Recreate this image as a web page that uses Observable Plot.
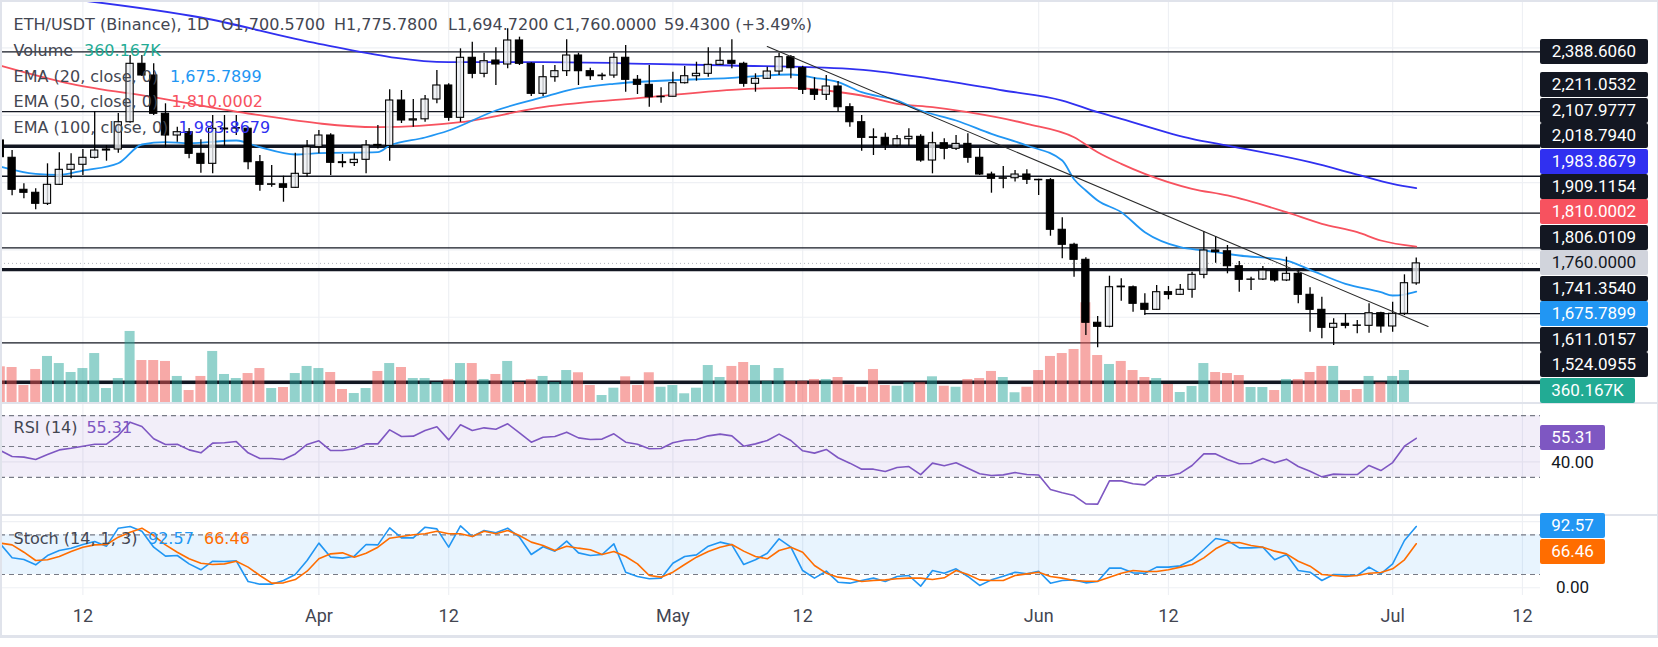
<!DOCTYPE html>
<html>
<head>
<meta charset="utf-8">
<script src="https://cdn.jsdelivr.net/npm/d3@7"></script>
<script src="https://cdn.jsdelivr.net/npm/@observablehq/plot@0.6"></script>
<style>
  body { margin: 0; background: #fff; font-family: Roboto, "Noto Sans", sans-serif; }
  #chart { position: relative; width: 1658px; height: 647px; overflow: hidden; background: #fff; }
  .layer { position: absolute; left: 0; overflow: hidden; }
  .layer svg { display: block; }
  .lbl { position: absolute; height: 25px; line-height: 25px; font-size: 17px; text-align: center; border-radius: 2px; white-space: nowrap; }
  .tick { position: absolute; height: 20px; line-height: 20px; font-size: 17px; text-align: center; color: #131722; white-space: nowrap; }
  .lg { position: absolute; font-family: "DejaVu Sans", Verdana, sans-serif; font-size: 16px; line-height: 20px; height: 20px; color: #434651; white-space: nowrap; }
  .sep { position: absolute; background: #e0e3eb; }
</style>
</head>
<body>
<div id="chart"></div>
<script>
// ---------------- DATA ----------------
const startDay = "2023-03-05";           // first visible daily candle
const symbolTitle = "ETH/USDT (Binance), 1D";

const opens = [
  2125.1, 2073.7, 1978.6, 1969.7, 1937.0, 1993.4, 2038.0, 2052.9, 2073.7, 2095.3,
  2098.3, 2179.4, 2352.9, 2318.2, 2204.4, 2139.9, 2149.7, 2085.5, 2055.8, 2158.0,
  2160.5, 2160.0, 2060.6, 1993.4, 1995.0, 1984.5, 2026.1, 2105.2, 2139.9, 2060.5,
  2058.0, 2067.7, 2112.0, 2109.0, 2243.9, 2184.5, 2188.0, 2246.9, 2288.5, 2192.5,
  2370.8, 2323.2, 2362.7, 2350.9, 2422.2, 2352.9, 2263.8, 2313.1, 2331.0, 2377.6,
  2331.0, 2316.1, 2318.0, 2370.8, 2305.4, 2290.5, 2253.7, 2255.0, 2295.3, 2316.1,
  2323.2, 2349.9, 2361.8, 2352.9, 2293.5, 2308.4, 2330.0, 2372.6, 2339.9, 2275.7,
  2260.8, 2285.5, 2224.0, 2179.4, 2134.5, 2133.0, 2110.2, 2129.0, 2136.0, 2065.6,
  2117.0, 2100.4, 2115.0, 2073.7, 2024.0, 2011.3, 2013.0, 2024.0, 2008.3, 2007.0,
  1859.8, 1815.2, 1770.6, 1583.5, 1571.6, 1691.0, 1689.0, 1639.9, 1622.0, 1674.4,
  1666.6, 1681.5, 1726.0, 1798.3, 1796.0, 1751.6, 1711.2, 1712.0, 1738.8, 1709.2,
  1729.0, 1666.6, 1622.0, 1568.6, 1580.5, 1575.5, 1574.5, 1612.0, 1572.5, 1610.2,
  1700.57
];
const highs = [
  2131.0, 2095.3, 1996.4, 1981.6, 2055.8, 2088.5, 2085.5, 2098.3, 2211.0, 2110.2,
  2205.3, 2377.6, 2377.6, 2352.9, 2234.1, 2164.6, 2160.7, 2127.1, 2199.3, 2199.3,
  2199.0, 2164.0, 2080.5, 2050.8, 2019.0, 2087.3, 2125.1, 2154.8, 2145.0, 2083.5,
  2085.5, 2125.1, 2170.0, 2275.7, 2273.6, 2246.9, 2258.8, 2333.0, 2293.5, 2397.5,
  2417.1, 2384.4, 2400.5, 2456.9, 2432.0, 2356.0, 2347.9, 2347.9, 2424.2, 2384.4,
  2339.9, 2325.0, 2384.4, 2407.3, 2318.2, 2347.9, 2281.6, 2328.0, 2345.0, 2357.7,
  2400.5, 2400.5, 2424.2, 2357.7, 2323.2, 2342.8, 2384.4, 2377.6, 2346.0, 2311.3,
  2318.2, 2300.4, 2234.1, 2199.3, 2159.8, 2146.8, 2140.0, 2159.8, 2142.0, 2149.7,
  2130.0, 2140.0, 2145.0, 2100.4, 2031.0, 2047.8, 2036.0, 2038.0, 2010.0, 2012.0,
  1895.4, 1820.0, 1776.6, 1602.2, 1721.9, 1714.2, 1693.0, 1669.6, 1694.3, 1691.3,
  1697.2, 1733.8, 1854.7, 1839.8, 1813.1, 1765.6, 1719.0, 1750.7, 1740.0, 1778.4,
  1738.8, 1687.3, 1659.5, 1595.3, 1610.2, 1590.3, 1639.9, 1615.0, 1644.8, 1726.0,
  1775.78
];
const lows = [
  2072.0, 1960.8, 1951.8, 1919.2, 1932.0, 1991.4, 2011.3, 2021.1, 2070.0, 2063.6,
  2087.3, 2176.0, 2315.2, 2199.3, 2103.4, 2120.0, 2070.7, 2028.0, 2026.1, 2107.2,
  2140.0, 2038.0, 1974.4, 1986.3, 1941.7, 1983.0, 2016.0, 2085.5, 2021.1, 2044.0,
  2047.8, 2026.1, 2100.0, 2063.6, 2175.6, 2164.6, 2179.4, 2234.1, 2182.4, 2179.4,
  2308.4, 2311.3, 2288.5, 2338.1, 2347.9, 2255.8, 2255.8, 2298.3, 2315.2, 2288.5,
  2303.3, 2303.3, 2310.3, 2268.6, 2261.7, 2224.0, 2235.9, 2254.0, 2293.0, 2301.3,
  2313.1, 2347.9, 2338.1, 2283.4, 2268.6, 2306.0, 2318.2, 2308.4, 2261.7, 2243.9,
  2243.9, 2209.1, 2164.6, 2093.3, 2080.5, 2095.3, 2105.0, 2107.2, 2060.6, 2026.1,
  2067.7, 2095.3, 2057.6, 2021.0, 1968.5, 1981.6, 2002.0, 1994.4, 1961.7, 1840.7,
  1773.6, 1718.9, 1545.7, 1509.2, 1568.6, 1647.6, 1615.0, 1605.1, 1620.0, 1651.8,
  1665.0, 1656.5, 1714.2, 1760.5, 1729.0, 1674.4, 1679.4, 1709.0, 1704.3, 1706.0,
  1639.9, 1555.5, 1535.9, 1516.0, 1565.6, 1550.7, 1552.5, 1552.5, 1555.5, 1605.1,
  1694.72
];
const closes = [
  2075.5, 1978.6, 1969.7, 1937.0, 1993.4, 2038.0, 2052.9, 2073.7, 2095.3, 2098.3,
  2179.4, 2352.9, 2318.2, 2204.4, 2139.9, 2149.7, 2085.5, 2055.8, 2159.8, 2160.5,
  2162.0, 2060.6, 1993.4, 1995.0, 1984.5, 2026.1, 2105.2, 2139.9, 2058.8, 2058.0,
  2067.7, 2110.2, 2109.0, 2243.9, 2184.5, 2188.0, 2246.9, 2288.5, 2192.5, 2370.8,
  2323.2, 2360.7, 2350.9, 2422.2, 2352.9, 2263.8, 2313.1, 2331.0, 2377.6, 2331.0,
  2316.1, 2318.0, 2370.8, 2305.4, 2290.5, 2253.7, 2255.0, 2295.3, 2316.1, 2323.2,
  2349.9, 2361.8, 2352.9, 2293.5, 2308.4, 2330.0, 2372.6, 2339.9, 2275.7, 2260.8,
  2285.5, 2224.0, 2179.4, 2133.0, 2133.0, 2110.2, 2129.0, 2136.0, 2065.6, 2117.0,
  2100.4, 2115.0, 2073.7, 2024.0, 2011.3, 2013.0, 2024.0, 2008.3, 2007.0, 1859.8,
  1815.2, 1770.6, 1583.5, 1571.6, 1689.2, 1689.0, 1639.9, 1622.0, 1674.4, 1666.6,
  1681.5, 1726.0, 1798.3, 1793.3, 1751.6, 1711.2, 1712.0, 1738.8, 1709.2, 1729.0,
  1666.6, 1622.0, 1568.6, 1580.5, 1574.5, 1574.5, 1612.0, 1572.5, 1610.2, 1701.1,
  1760.0
];
// daily volume, thousands (bars drawn for the closed candles)
const volumesK = [
  414, 406, 197, 383, 534, 452, 348, 394, 568, 162,
  278, 824, 487, 487, 476, 302, 139, 302, 592, 325,
  278, 336, 394, 162, 174, 336, 418, 394, 348, 151,
  104, 162, 360, 452, 406, 278, 278, 232, 267, 452,
  452, 267, 325, 476, 232, 267, 302, 232, 371, 345,
  197, 81, 166, 298, 197, 345, 177, 197, 101, 166,
  429, 290, 418, 464, 429, 247, 394, 247, 247, 267,
  267, 290, 205, 177, 383, 197, 189, 229, 229, 298,
  189, 177, 267, 278, 360, 290, 113, 177, 371, 534,
  568, 615, 1157, 545, 441, 476, 371, 290, 278, 209,
  116, 186, 452, 348, 336, 313, 174, 174, 139, 267,
  267, 348, 418, 418, 139, 151, 302, 229, 302, 371
];
const lastVolumeK = 360.167;

const rsi14 = [
  47.4, 43.5, 43.1, 41.6, 44.8, 47.8, 48.9, 50.2, 51.5, 51.5,
  57.1, 65.8, 63.0, 55.0, 51.3, 51.5, 47.8, 45.9, 52.2, 52.4,
  53.2, 45.9, 42.2, 42.2, 41.6, 45.2, 51.3, 53.7, 47.4, 47.4,
  48.5, 51.7, 51.7, 60.8, 56.5, 56.7, 60.4, 62.8, 54.3, 64.1,
  60.4, 62.1, 61.2, 64.7, 58.9, 52.8, 56.0, 56.5, 59.3, 55.6,
  54.5, 54.8, 58.2, 52.8, 51.5, 48.5, 48.7, 52.4, 54.1, 54.5,
  56.9, 58.0, 56.9, 50.2, 51.7, 53.9, 58.0, 53.9, 47.2, 45.7,
  48.1, 42.7, 39.2, 35.3, 35.3, 33.8, 36.4, 37.0, 31.8, 39.2,
  37.5, 39.4, 35.9, 32.3, 31.2, 31.6, 33.1, 31.8, 31.5, 22.1,
  20.0, 18.2, 12.8, 12.6, 27.7, 27.7, 25.8, 25.1, 31.0, 31.0,
  32.7, 37.7, 45.2, 45.2, 41.6, 38.8, 39.0, 42.2, 39.4, 41.8,
  37.0, 34.0, 30.3, 32.1, 31.8, 31.8, 37.7, 34.4, 39.6, 50.2,
  55.31
];
const stochK = [
  66.3, 45.2, 42.7, 34.6, 48.7, 56.3, 59.8, 65.3, 69.9, 62.8,
  90.0, 92.5, 85.5, 61.3, 47.7, 48.7, 36.1, 27.1, 40.1, 39.6,
  40.7, 9.4, 5.4, 5.4, 10.9, 20.0, 41.2, 67.4, 46.2, 44.7,
  47.7, 65.3, 64.8, 90.5, 75.4, 75.4, 91.5, 89.0, 61.3, 93.5,
  77.4, 86.5, 83.0, 90.0, 76.4, 50.2, 62.0, 55.3, 70.4, 52.7,
  48.7, 50.2, 66.3, 23.5, 17.0, 13.5, 14.5, 37.1, 47.2, 49.7,
  62.8, 68.9, 64.8, 35.1, 42.2, 52.2, 73.9, 61.3, 26.0, 14.5,
  25.0, 8.4, 6.9, 10.9, 14.5, 9.4, 17.0, 18.5, 2.4, 26.0,
  22.0, 28.6, 17.0, 3.4, 11.9, 17.5, 23.5, 21.0, 25.0, 6.9,
  10.9, 11.9, 7.4, 9.4, 29.6, 29.6, 22.5, 22.0, 31.1, 31.1,
  33.1, 42.2, 57.8, 74.4, 71.4, 60.3, 60.3, 61.3, 42.2, 50.2,
  26.0, 23.5, 10.9, 20.0, 19.5, 18.5, 31.1, 21.0, 36.1, 71.4,
  92.57
];
const stochD = [
  67.4, 64.8, 53.7, 41.2, 42.2, 47.2, 54.8, 61.3, 64.8, 65.3,
  76.4, 84.0, 90.0, 78.9, 64.8, 53.7, 43.7, 37.1, 35.1, 36.1,
  40.1, 31.1, 18.5, 6.9, 7.4, 12.4, 25.0, 43.7, 51.2, 52.7,
  46.2, 52.2, 61.3, 74.9, 77.4, 80.0, 81.5, 85.5, 81.5, 81.5,
  77.4, 85.5, 81.5, 86.5, 78.9, 68.9, 63.8, 56.3, 62.8, 59.8,
  57.3, 50.2, 54.8, 47.2, 36.1, 18.5, 16.0, 23.5, 35.1, 46.2,
  54.8, 61.3, 65.3, 55.3, 47.2, 43.7, 56.3, 61.3, 53.7, 33.6,
  22.0, 16.0, 13.5, 9.4, 10.9, 11.9, 13.5, 14.5, 14.5, 12.4,
  15.0, 26.0, 20.0, 11.9, 10.9, 10.9, 18.5, 21.0, 23.5, 17.0,
  14.5, 10.9, 9.9, 9.9, 16.0, 22.0, 26.0, 24.5, 24.5, 27.1,
  31.1, 35.1, 45.2, 58.8, 67.9, 68.4, 63.8, 61.3, 55.3, 51.2,
  40.1, 32.6, 20.0, 18.5, 17.0, 18.5, 22.0, 23.0, 28.6, 42.2,
  66.46
];

// EMA lines (day index from startDay, value)
const ema20Days = [0, 3, 5, 7, 10, 12, 14, 16, 20, 22, 25, 27, 32, 33, 36, 38, 42, 46, 48, 52, 62, 67, 69, 71, 73, 76, 78, 81, 84, 87, 90, 91, 92, 93, 95, 97, 100, 102, 105, 109, 111, 114, 117, 118, 119, 120];
const ema20Values = [2047.8, 2026.1, 2023.2, 2035.9, 2057.6, 2113.2, 2120.0, 2117.0, 2125.1, 2105.2, 2083.5, 2087.3, 2090.3, 2110.2, 2134.0, 2154.8, 2214.2, 2253.7, 2273.6, 2293.5, 2311.3, 2321.1, 2311.3, 2298.3, 2268.6, 2243.9, 2214.2, 2184.5, 2145.0, 2110.2, 2065.6, 2010.0, 1976.5, 1946.8, 1912.0, 1852.6, 1808.0, 1798.3, 1783.4, 1768.5, 1740.9, 1699.3, 1674.4, 1664.6, 1667.5, 1675.7899];
const ema50Days = [0, 6, 13, 21, 32, 39, 46, 55, 62, 67, 70, 73, 76, 79, 82, 87, 91, 93, 95, 97, 101, 104, 109, 112, 115, 117, 120];
const ema50Values = [2347.9, 2293.5, 2253.7, 2205.3, 2164.6, 2179.4, 2224.0, 2253.7, 2275.7, 2281.6, 2273.6, 2258.8, 2234.1, 2224.0, 2209.1, 2174.7, 2134.9, 2090.3, 2055.8, 2026.1, 1981.6, 1961.7, 1912.0, 1877.6, 1852.6, 1828.0, 1810.0002];
const ema100Days = [7, 17, 27, 38, 46, 55, 62, 72, 79, 85, 90, 93, 95, 101, 104, 111, 115, 118, 120];
const ema100Values = [2541.0, 2490.5, 2412.4, 2357.7, 2357.7, 2353.0, 2347.9, 2338.1, 2308.4, 2273.6, 2243.9, 2209.1, 2189.5, 2130.1, 2110.2, 2060.6, 2024.0, 1996.4, 1983.8679];

// drawn lines
const thinLevels = [2388.606, 2211.0532, 2018.794, 1909.1154, 1806.0109, 1524.0955];
const thickLevels = [2107.9777, 1741.354, 1407.0];
const rayLevels = [1611.0157];
const rayStartDays = [97];
const trendDays = [65, 121];
const trendPrices = [2404.3, 1572.5];
const priceGrid = [1400, 1600, 1800, 2000, 2200, 2400];

const tickDates = ["2023-03-12", "2023-04-01", "2023-04-12", "2023-05-01", "2023-05-12", "2023-06-01", "2023-06-12", "2023-07-01", "2023-07-12"];
const tickLabels = ["12", "Apr", "12", "May", "12", "Jun", "12", "Jul", "12"];

const rsiLevels = [70, 50, 30];
const rsiGrid = [40];
const stochLevels = [80, 20];
const stochGrid = [100, 0];

// ---------------- BUILD ----------------
const DAY = 864e5;
const t0 = Date.parse(startDay + "T00:00:00Z");
const dayDate = i => new Date(t0 + i * DAY);
const PLOT_W = 1540;
const xDomain = [new Date(t0 + 0.017 * DAY), new Date(t0 + 130.53 * DAY)];

const candles = opens.map((o, i) => ({date: dayDate(i), open: o, high: highs[i], low: lows[i], close: closes[i]}));
const up = candles.filter(c => c.close >= c.open);
const down = candles.filter(c => c.close < c.open);
const vols = volumesK.map((v, i) => ({date: dayDate(i), vol: v, up: closes[i] >= opens[i]}));
const mkLine = (days, vals) => days.map((d, i) => ({date: dayDate(d), value: vals[i]}));
const ema20 = mkLine(ema20Days, ema20Values);
const ema50 = mkLine(ema50Days, ema50Values);
const ema100 = mkLine(ema100Days, ema100Values);
const trend = mkLine(trendDays, trendPrices);
const rays = rayLevels.map((p, i) => ({price: p, start: dayDate(rayStartDays[i]), end: xDomain[1]}));
const ticks = tickDates.map((d, i) => ({date: new Date(d + "T00:00:00Z"), label: tickLabels[i]}));
const rsiData = rsi14.map((v, i) => ({date: dayDate(i), v}));
const kData = stochK.map((v, i) => ({date: dayDate(i), v}));
const dData = stochD.map((v, i) => ({date: dayDate(i), v}));
const band = (lo, hi) => [{x1: xDomain[0], x2: xDomain[1], y1: lo, y2: hi}];
const lastClose = closes[closes.length - 1];

const half = d => new Date(+d.date - DAY / 2);
const halfR = d => new Date(+d.date + DAY / 2);

const chart = document.getElementById("chart");
function pane(top, height, yDomain, marks) {
  const svg = Plot.plot({
    width: PLOT_W, height,
    marginTop: 0, marginRight: 0, marginBottom: 0, marginLeft: 0,
    x: {type: "utc", domain: xDomain, axis: null},
    y: {domain: yDomain, axis: null},
    style: {background: "none", overflow: "hidden", fontFamily: "Roboto"},
    marks
  });
  const div = document.createElement("div");
  div.className = "layer";
  div.style.top = top + "px";
  div.style.width = PLOT_W + "px";
  div.style.height = height + "px";
  div.appendChild(svg);
  chart.appendChild(div);
  return svg;
}

const GRID = "#eef0f4";
const INK = "#131722";
const PRICE_H = 402;
const priceDomain = [1346.68, 2541.02];

// price pane: background lines
const priceBack = pane(0, PRICE_H, priceDomain, [
  Plot.ruleX(ticks, {x: "date", stroke: GRID, strokeWidth: 1.2}),
  Plot.ruleY(priceGrid, {stroke: GRID, strokeWidth: 1.2}),
  Plot.ruleY([lastClose], {stroke: "#b2b5be", strokeDasharray: "1,3", strokeWidth: 1}),
  Plot.ruleY(thinLevels, {stroke: INK, strokeWidth: 1.3}),
  Plot.ruleY(rays, {y: "price", x1: "start", x2: "end", stroke: INK, strokeWidth: 1.3}),
  Plot.ruleY(thickLevels, {stroke: INK, strokeWidth: 3.4})
]);
// volume overlay
const volPane = pane(0, PRICE_H, [0, PRICE_H * 11.6], [
  Plot.rect(vols.filter(d => d.up), {x1: half, x2: halfR, y1: 0, y2: "vol", fill: "#26a69a", fillOpacity: 0.5, insetLeft: 0.9, insetRight: 0.9}),
  Plot.rect(vols.filter(d => !d.up), {x1: half, x2: halfR, y1: 0, y2: "vol", fill: "#ef5350", fillOpacity: 0.5, insetLeft: 0.9, insetRight: 0.9})
]);
// price pane: series
const priceFront = pane(0, PRICE_H, priceDomain, [
  Plot.line(ema100, {x: "date", y: "value", stroke: "#3030f0", strokeWidth: 1.8, curve: "monotone-x"}),
  Plot.line(ema50, {x: "date", y: "value", stroke: "#f7525f", strokeWidth: 1.8, curve: "monotone-x"}),
  Plot.line(ema20, {x: "date", y: "value", stroke: "#2196f3", strokeWidth: 1.8, curve: "monotone-x"}),
  Plot.ruleX(candles, {x: "date", y1: "low", y2: "high", stroke: "#000", strokeWidth: 1.3}),
  Plot.rect(up, {x1: half, x2: halfR, y1: "open", y2: "close", fill: "#eef0f4", fillOpacity: 0.8, stroke: "#000", strokeWidth: 1.1, insetLeft: 2.3, insetRight: 2.3}),
  Plot.rect(down, {x1: half, x2: halfR, y1: "open", y2: "close", fill: "#000", stroke: "#000", strokeWidth: 1.1, insetLeft: 2.3, insetRight: 2.3}),
  Plot.line(trend, {x: "date", y: "value", stroke: "#2a2a2a", strokeWidth: 1.1})
]);

// RSI pane
const RSI_TOP = 403, RSI_H = 111;
const rsiPane = pane(RSI_TOP, RSI_H, [50 - (RSI_H - (446 - RSI_TOP)) / 1.542, 50 + (446 - RSI_TOP) / 1.542], [
  Plot.ruleX(ticks, {x: "date", stroke: GRID, strokeWidth: 1.2}),
  Plot.rect(band(rsiLevels[2], rsiLevels[0]), {x1: "x1", x2: "x2", y1: "y1", y2: "y2", fill: "#7e57c2", fillOpacity: 0.1}),
  Plot.ruleY(rsiGrid, {stroke: "#e3e0ee", strokeWidth: 1.2}),
  Plot.ruleY(rsiLevels, {stroke: "#787b86", strokeDasharray: "5,4", strokeWidth: 1.2}),
  Plot.line(rsiData, {x: "date", y: "v", stroke: "#7e57c2", strokeWidth: 1.6})
]);

// Stochastic pane
const ST_TOP = 515, ST_H = 80;
const stPane = pane(ST_TOP, ST_H, [20 - (ST_H - (574 - ST_TOP)) / 0.6617, 20 + (574 - ST_TOP) / 0.6617], [
  Plot.ruleX(ticks, {x: "date", stroke: GRID, strokeWidth: 1.2}),
  Plot.ruleY(stochGrid, {stroke: GRID, strokeWidth: 1.2}),
  Plot.rect(band(stochLevels[1], stochLevels[0]), {x1: "x1", x2: "x2", y1: "y1", y2: "y2", fill: "#2196f3", fillOpacity: 0.1}),
  Plot.ruleY(stochLevels, {stroke: "#787b86", strokeDasharray: "5,4", strokeWidth: 1.2}),
  Plot.line(kData, {x: "date", y: "v", stroke: "#2196f3", strokeWidth: 1.6}),
  Plot.line(dData, {x: "date", y: "v", stroke: "#ff6d00", strokeWidth: 1.6})
]);

// time axis
pane(596, 40, [0, 1], [
  Plot.text(ticks, {x: "date", text: "label", frameAnchor: "middle", fontSize: 18, fill: "#434651", fontFamily: "Roboto"})
]);

// separators & frame
function sep(x, y, w, h, color) {
  const d = document.createElement("div");
  d.className = "sep";
  Object.assign(d.style, {left: x + "px", top: y + "px", width: w + "px", height: h + "px"});
  if (color) d.style.background = color;
  chart.appendChild(d);
}
sep(0, 0, 1658, 1.5);
sep(0, 0, 1.5, 637);
sep(1656.5, 0, 1.5, 637);
sep(0, 402, 1658, 1.5);
sep(0, 514, 1658, 1.5);
sep(0, 635, 1658, 3);

// right scale labels
const yPrice = v => priceFront.scale("y").apply(v);
const fmt4 = d3.format(",.4f");
function tag(cls, str, cy, left, width, bg, color) {
  const d = document.createElement("div");
  d.className = cls;
  d.textContent = str;
  const h = cls === "lbl" ? 25 : 20;
  Object.assign(d.style, {left: left + "px", top: (cy - h / 2) + "px", width: width + "px"});
  if (bg) d.style.background = bg;
  if (color) d.style.color = color;
  chart.appendChild(d);
  return d;
}

const DARK = "#131722";
const tags = [
  {v: 2211.0532, bg: DARK, c: "#fff"},
  {v: 2107.9777, bg: DARK, c: "#fff"},
  {v: 2018.794, bg: DARK, c: "#fff"},
  {v: ema100Values[ema100Values.length - 1], bg: "#3030f0", c: "#fff"},
  {v: 1909.1154, bg: DARK, c: "#fff"},
  {v: ema50Values[ema50Values.length - 1], bg: "#f7525f", c: "#fff"},
  {v: 1806.0109, bg: DARK, c: "#fff"},
  {v: lastClose, bg: "#d1d4dc", c: "#131722", anchor: true},
  {v: 1741.354, bg: DARK, c: "#fff"},
  {v: ema20Values[ema20Values.length - 1], bg: "#2196f3", c: "#fff"},
  {v: 1611.0157, bg: DARK, c: "#fff"},
  {v: 1524.0955, bg: DARK, c: "#fff"}
];
const STEP = 25.45;
const ai = tags.findIndex(t => t.anchor);
tags.forEach(t => t.y = yPrice(t.v));
tags[ai].pos = tags[ai].y;
for (let i = ai - 1; i >= 0; i--) tags[i].pos = Math.min(tags[i].y, tags[i + 1].pos - STEP);
for (let i = ai + 1; i < tags.length; i++) tags[i].pos = Math.max(tags[i].y, tags[i - 1].pos + STEP);
tag("lbl", fmt4(thinLevels[0]), yPrice(thinLevels[0]), 1540, 108, DARK, "#fff");
tags.forEach(t => tag("lbl", fmt4(t.v), t.pos, 1540, 108, t.bg, t.c));
// volume tag, pinned to the bottom of the price pane
const volY = Math.max(volPane.scale("y").apply(lastVolumeK), PRICE_H - 12);
tag("lbl", d3.format(".3f")(lastVolumeK) + "K", volY, 1540, 95, "#22ab94", "#fff");

// RSI tags
const yRsi = v => rsiPane.scale("y").apply(v) + RSI_TOP;
tag("tick", "40.00", yRsi(rsiGrid[0]) + 1, 1540, 65);
tag("lbl", rsi14[rsi14.length - 1].toFixed(2), yRsi(rsi14[rsi14.length - 1]), 1540, 65, "#7e57c2", "#fff");
// Stoch tags
const ySt = v => stPane.scale("y").apply(v) + ST_TOP;
tag("tick", "0.00", ySt(0), 1540, 65);
const kPos = ySt(stochK[stochK.length - 1]);
const dPos = Math.max(ySt(stochD[stochD.length - 1]), kPos + 26);
tag("lbl", stochK[stochK.length - 1].toFixed(2), kPos, 1540, 65, "#2196f3", "#fff");
tag("lbl", stochD[stochD.length - 1].toFixed(2), dPos, 1540, 65, "#ff6d00", "#fff");

// legends
function lg(str, x, cy, color) {
  const d = document.createElement("div");
  d.className = "lg";
  d.textContent = str;
  Object.assign(d.style, {left: x + "px", top: (cy - 10) + "px"});
  if (color) d.style.color = color;
  chart.appendChild(d);
}
const last = candles.length - 1;
lg(symbolTitle, 13.6, 24.5);
lg("O" + fmt4(opens[last]), 221, 24.5);
lg("H" + fmt4(highs[last]), 334, 24.5);
lg("L" + fmt4(lows[last]), 448, 24.5);
lg("C" + fmt4(closes[last]), 553.6, 24.5);
lg("59.4300 (+3.49%)", 664, 24.5);
lg("Volume", 13.6, 50.5);
lg(d3.format(".3f")(lastVolumeK) + "K", 84, 50.5, "#22ab94");
lg("EMA (20, close, 0)", 13.6, 76.5);
lg(fmt4(ema20Values[ema20Values.length - 1]), 170, 76.5, "#2196f3");
lg("EMA (50, close, 0)", 13.6, 102);
lg(fmt4(ema50Values[ema50Values.length - 1]), 171.4, 102, "#f7525f");
lg("EMA (100, close, 0)", 13.6, 127.5);
lg(fmt4(ema100Values[ema100Values.length - 1]), 178.6, 127.5, "#3030f0");
lg("RSI (14)", 13.6, 427.5);
lg(rsi14[rsi14.length - 1].toFixed(2), 86.4, 427.5, "#7e57c2");
lg("Stoch (14, 1, 3)", 13.6, 538.5);
lg(stochK[stochK.length - 1].toFixed(2), 148, 538.5, "#2196f3");
lg(stochD[stochD.length - 1].toFixed(2), 204, 538.5, "#ff6d00");
</script>
</body>
</html>
